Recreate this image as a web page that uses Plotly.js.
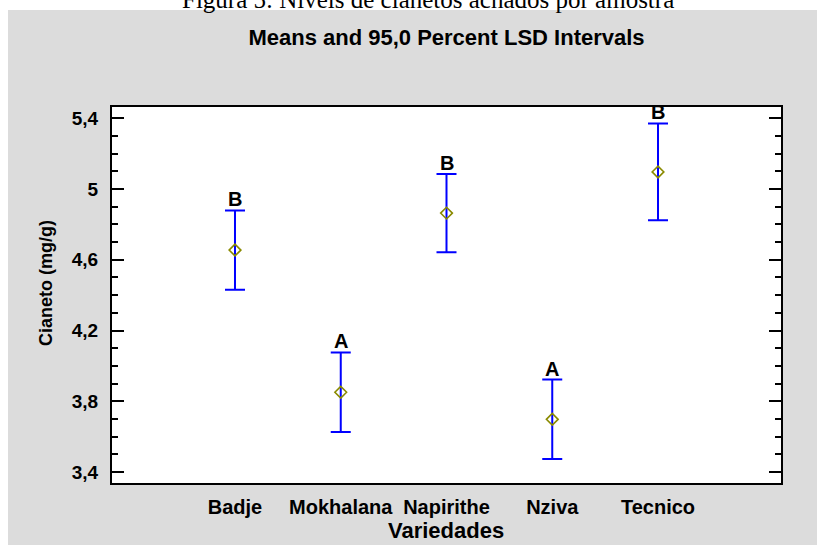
<!DOCTYPE html>
<html>
<head>
<meta charset="utf-8">
<script src="https://cdn.plot.ly/plotly-3.0.1.min.js"></script>
<style>
  html, body { margin: 0; padding: 0; background: #ffffff; }
  #chart { width: 817px; height: 546px; }
</style>
</head>
<body>
<div id="chart"></div>
<script>
// ---- data ----
const categories = ["Badje", "Mokhalana", "Napirithe", "Nziva", "Tecnico"];
const means = [4.655, 3.851, 4.864, 3.698, 5.097];
const lsdHalfWidth = [0.224, 0.225, 0.221, 0.225, 0.274];
const groupLetters = ["B", "A", "B", "A", "B"];
const yTickVals = [3.4, 3.8, 4.2, 4.6, 5.0, 5.4];
const yTickText = ["3,4", "3,8", "4,2", "4,6", "5", "5,4"];
const chartTitle = "Means and 95,0 Percent LSD Intervals";
const xTitle = "Variedades";
const yTitle = "Cianeto (mg/g)";
const caption = "Figura 5: Níveis de cianetos achados por amostra";

// ---- layout geometry ----
const W = 817, H = 546;
const M = { l: 112, r: 36, t: 107, b: 63 };
const PW = W - M.l - M.r, PH = H - M.t - M.b;
const px = v => (v - M.l) / PW;          // pixel x -> paper x
const py = v => (H - M.b - v) / PH;      // pixel y -> paper y

const FONT = "Liberation Sans, Arial, Helvetica, sans-serif";

const trace = {
  type: "scatter",
  mode: "markers",
  x: categories,
  y: means,
  marker: {
    symbol: "diamond-open",
    size: 9,
    color: "#8a8a00",
    line: { width: 1.6, color: "#8a8a00" }
  },
  error_y: {
    type: "data",
    array: lsdHalfWidth,
    visible: true,
    color: "#0000ff",
    thickness: 2,
    width: 10
  },
  hoverinfo: "x+y",
  showlegend: false
};

const letterAnnotations = categories.map((c, i) => ({
  x: c,
  y: means[i] + lsdHalfWidth[i],
  xref: "x",
  yref: "y",
  text: "<b>" + groupLetters[i] + "</b>",
  showarrow: false,
  yanchor: "bottom",
  yshift: -2,
  font: { family: FONT, size: 20, color: "#000000" }
}));

const layout = {
  width: W,
  height: H,
  margin: M,
  paper_bgcolor: "#ffffff",
  plot_bgcolor: "#ffffff",
  separators: ",.",
  showlegend: false,
  title: {
    text: "<b>" + chartTitle + "</b>",
    font: { family: FONT, size: 22, color: "#000000" },
    xref: "paper",
    x: 0.5,
    xanchor: "center",
    yref: "container",
    y: 1 - 37 / H,
    yanchor: "middle"
  },
  xaxis: {
    type: "category",
    categoryarray: categories,
    range: [-1.163, 5.163],
    showline: true,
    linecolor: "#000000",
    linewidth: 2,
    mirror: true,
    ticks: "",
    showgrid: false,
    zeroline: false,
    ticklabelstandoff: 5,
    tickfont: { family: FONT, size: 20, color: "#000000", weight: "bold" }
  },
  yaxis: {
    range: [3.338, 5.464],
    tickmode: "array",
    tickvals: yTickVals,
    ticktext: yTickText,
    ticks: "inside",
    ticklen: 12,
    tickwidth: 2,
    tickcolor: "#000000",
    minor: {
      tickmode: "linear",
      tick0: 3.4,
      dtick: 0.1,
      ticks: "inside",
      ticklen: 6,
      tickwidth: 2,
      tickcolor: "#000000",
      showgrid: false
    },
    showline: true,
    linecolor: "#000000",
    linewidth: 2,
    mirror: "ticks",
    showgrid: false,
    zeroline: false,
    ticklabelstandoff: 8,
    tickfont: { family: FONT, size: 19, color: "#000000", weight: "bold" }
  },
  shapes: [
    {
      type: "rect", xref: "paper", yref: "paper", layer: "below",
      x0: px(8), x1: px(822), y0: py(545), y1: py(10),
      fillcolor: "#dcdcdc", line: { width: 0 }
    },
    {
      type: "rect", xref: "paper", yref: "paper", layer: "below",
      x0: 0, x1: 1, y0: 0, y1: 1,
      fillcolor: "#ffffff", line: { width: 0 }
    }
  ],
  annotations: [
    {
      text: caption,
      xref: "paper", yref: "paper",
      x: px(428), y: py(-1),
      xanchor: "center", yanchor: "middle",
      showarrow: false,
      font: { family: "Liberation Serif, Times New Roman, serif", size: 25, color: "#000000" }
    },
    {
      text: "<b>" + yTitle + "</b>",
      xref: "paper", yref: "paper",
      x: px(46), y: py(283),
      xanchor: "center", yanchor: "middle",
      textangle: -90,
      showarrow: false,
      font: { family: FONT, size: 18, color: "#000000" }
    },
    {
      text: "<b>" + xTitle + "</b>",
      xref: "paper", yref: "paper",
      x: px(446), y: py(530),
      xanchor: "center", yanchor: "middle",
      showarrow: false,
      font: { family: FONT, size: 22, color: "#000000" }
    }
  ].concat(letterAnnotations)
};

Plotly.newPlot("chart", [trace], layout, { displayModeBar: false, staticPlot: true });
</script>
</body>
</html>
